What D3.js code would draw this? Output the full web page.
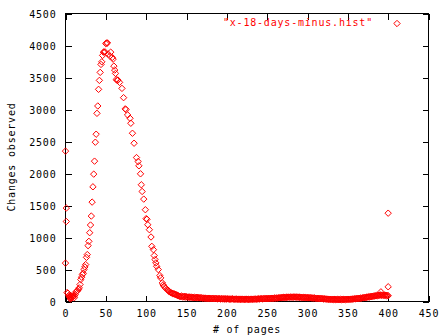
<!DOCTYPE html>
<html>
<head>
<meta charset="utf-8">
<script src="https://cdn.jsdelivr.net/npm/d3@7"></script>
<style>
  html, body { margin: 0; padding: 0; background: #fff; }
  svg { display: block; }
  text { font-family: "DejaVu Sans Mono", monospace; font-size: 10px; letter-spacing: 0.8px; }
</style>
</head>
<body>
<svg id="chart" width="448" height="336"></svg>
<script>
// Axis ticks
const xTicks = [0, 50, 100, 150, 200, 250, 300, 350, 400, 450];
const yTicks = [0, 500, 1000, 1500, 2000, 2500, 3000, 3500, 4000, 4500];

const seriesLabel = '"x-18-days-minus.hist"';
const xLabel = "# of pages";
const yLabel = "Changes observed";

// Histogram head: page counts 0..141 (some counts appear more than once)
const headPages = [
  0, 0, 1, 1, 2, 3, 4, 5, 5, 6, 6, 7, 7, 8, 8, 9, 10, 11, 11, 12,
  13, 14, 15, 16, 17, 18, 19, 20, 21, 22, 23, 24, 25, 26, 27, 28, 29, 30, 31, 32,
  33, 34, 35, 36, 37, 38, 39, 40, 41, 42, 43, 44, 45, 46, 47, 48, 49, 50, 51, 52,
  53, 55, 56, 58, 59, 60, 61, 62, 63, 64, 65, 67, 70, 72, 74, 75, 77, 80, 81, 83,
  85, 88, 90, 91, 93, 94, 95, 97, 99, 100, 101, 102, 104, 106, 107, 109, 110, 111, 112, 113,
  115, 117, 118, 120, 121, 122, 124, 126, 127, 128, 129, 130, 131, 132, 133, 134, 135, 136, 137, 138,
  139, 140, 141
];
const headChanges = [
  2350, 600, 1460, 1250, 140, 130, 90, 70, 100, 60, 40, 50, 80, 60, 90, 70, 80, 60, 90, 110,
  150, 160, 170, 190, 213, 265, 343, 380, 421, 440, 500, 540, 577, 690, 733, 873, 940, 1075, 1195, 1335,
  1553, 1792, 1990, 2193, 2489, 2614, 2940, 3055, 3315, 3455, 3580, 3704, 3745, 3845, 3896, 3896, 3900, 4030, 4040, 4040,
  3865, 3834, 3896, 3814, 3787, 3678, 3616, 3564, 3470, 3455, 3460, 3424, 3330, 3185, 3010, 3000, 2915, 2863, 2785, 2629,
  2473, 2249, 2187, 2120, 1995, 1824, 1719, 1600, 1434, 1295, 1285, 1200, 1122, 1008, 862, 810, 717, 655, 603, 550,
  499, 405, 369, 291, 260, 238, 210, 187, 176, 165, 150, 145, 136, 130, 125, 120, 115, 112, 109, 100,
  95, 90, 83
];

// Histogram tail: one count per page from 142 to 400
const tailStart = 142;
const tailChanges = [
  80, 78, 85, 72, 76, 70, 82, 68, 74, 70, 66, 72, 64, 68, 70, 62, 66, 60, 64, 58, 62, 66, 56, 60, 58, 54, 60, 56, 52,
  55, 50, 54, 48, 52, 50, 46, 52, 48, 44, 50, 46, 48, 42, 46, 44, 48, 40, 44, 42, 46, 40, 42, 44, 38, 42, 40, 44, 38, 40,
  42, 38, 40, 36, 40, 38, 42, 36, 38, 34, 38, 40, 36, 34, 38, 36, 32, 36, 38, 34, 36, 32, 34, 38, 36, 34, 32, 36, 34, 38,
  36, 34, 38, 36, 40, 38, 36, 40, 42, 38, 40, 44, 42, 40, 44, 46, 42, 44, 48, 46, 44, 48, 50, 46, 50, 52, 48, 52, 54, 50,
  54, 56, 52, 58, 56, 60, 58, 62, 60, 64, 66, 62, 68, 64, 66, 70, 68, 66, 72, 68, 70, 66, 72, 70, 68, 72, 66, 70, 68, 64,
  68, 66, 62, 66, 64, 60, 64, 62, 58, 62, 60, 56, 60, 58, 54, 56, 52, 56, 54, 50, 52, 48, 50, 46, 48, 44, 46, 42, 44, 40,
  42, 38, 40, 36, 38, 34, 36, 34, 32, 36, 34, 30, 34, 32, 30, 34, 32, 30, 32, 28, 32, 30, 34, 30, 32, 34, 30, 34, 32, 36,
  34, 36, 34, 38, 36, 40, 38, 42, 40, 44, 46, 44, 48, 50, 48, 54, 52, 58, 56, 62, 60, 66, 64, 70, 68, 74, 72, 78, 76, 82,
  80, 86, 84, 90, 88, 94, 92, 98, 96, 104, 100, 96, 102, 98, 94, 100, 96, 92, 98, 90
];

// Isolated counts near the end of the range
const extraPages = [391, 400, 400];
const extraChanges = [151, 230, 1380];

const points = [];
headPages.forEach((p, i) => points.push([p, headChanges[i]]));
tailChanges.forEach((c, i) => points.push([tailStart + i, c]));
extraPages.forEach((p, i) => points.push([p, extraChanges[i]]));

const svg = d3.select("#chart");
const plotLeft = 65.5, plotRight = 428.5, plotTop = 13.5, plotBottom = 301.5;

const x = d3.scaleLinear().domain([0, 450]).range([plotLeft, plotRight]);
const y = d3.scaleLinear().domain([0, 4500]).range([plotBottom, plotTop]);

const tickLen = 6;

// Bottom axis with labels, ticks pointing into the plot
const gx = svg.append("g").attr("transform", `translate(0,${plotBottom})`)
  .call(d3.axisBottom(x).tickValues(xTicks).tickSize(-tickLen).tickSizeOuter(0).tickPadding(8).tickFormat(d3.format("d")));
// Top axis: ticks only
const gxt = svg.append("g").attr("transform", `translate(0,${plotTop})`)
  .call(d3.axisTop(x).tickValues(xTicks).tickSize(-tickLen).tickSizeOuter(0).tickFormat(""));
// Left axis with labels
const gy = svg.append("g").attr("transform", `translate(${plotLeft},0)`)
  .call(d3.axisLeft(y).tickValues(yTicks).tickSize(-tickLen).tickSizeOuter(0).tickPadding(9).tickFormat(d3.format("d")));
// Right axis: ticks only
const gyr = svg.append("g").attr("transform", `translate(${plotRight},0)`)
  .call(d3.axisRight(y).tickValues(yTicks).tickSize(-tickLen).tickSizeOuter(0).tickFormat(""));

[gx, gxt, gy, gyr].forEach(g => {
  g.select(".domain").remove();
  g.selectAll(".tick line").attr("stroke", "#000").attr("shape-rendering", "crispEdges");
  g.selectAll("text").attr("fill", "#000")
    .style("font-family", '"DejaVu Sans Mono", monospace').style("font-size", "10px");
});
gy.selectAll("text").attr("dy", "0.35em");

// Plot border
svg.append("rect")
  .attr("x", plotLeft).attr("y", plotTop)
  .attr("width", plotRight - plotLeft).attr("height", plotBottom - plotTop)
  .attr("fill", "none").attr("stroke", "#000").attr("stroke-width", 1)
  .attr("shape-rendering", "crispEdges");

// Axis titles
svg.append("text").attr("x", 247).attr("y", 333).attr("text-anchor", "middle").text(xLabel);
svg.append("text")
  .attr("transform", "translate(15,157) rotate(-90)")
  .attr("text-anchor", "middle").text(yLabel);

// Hollow diamond marker
const diamond = "M0,-3.2L3.2,0L0,3.2L-3.2,0Z";

svg.append("g").selectAll("path")
  .data(points)
  .join("path")
  .attr("d", diamond)
  .attr("transform", d => `translate(${x(d[0])},${y(d[1])})`)
  .attr("fill", "none")
  .attr("stroke", "#ff0000")
  .attr("stroke-width", 1);

// Key
svg.append("text").attr("x", 373).attr("y", 26).attr("text-anchor", "end")
  .attr("fill", "#ff0000").text(seriesLabel);
svg.append("path").attr("d", diamond).attr("transform", "translate(397,23.5)")
  .attr("fill", "none").attr("stroke", "#ff0000").attr("stroke-width", 1);
</script>
</body>
</html>
